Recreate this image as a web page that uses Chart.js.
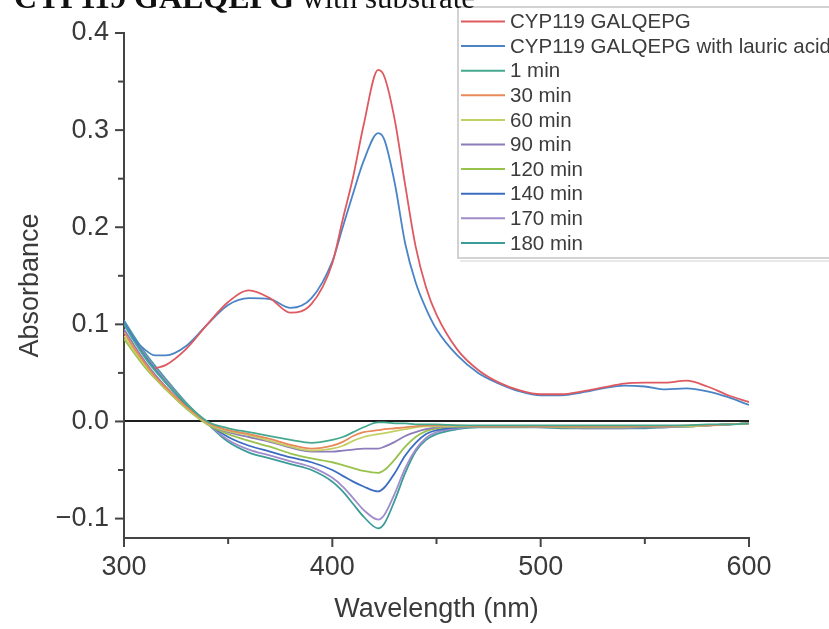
<!DOCTYPE html>
<html>
<head>
<meta charset="utf-8">
<script src="https://cdn.jsdelivr.net/npm/chart.js@4.4.1/dist/chart.umd.min.js"></script>
<style>
  body { margin: 0; background: #fff; }
  #wrap { position: relative; width: 829px; height: 629px; }
</style>
</head>
<body>
<div id="wrap"><canvas id="spectra"></canvas></div>
<script>
// wavelength grid (nm) shared by every spectrum
const wavelength = [300, 305, 310, 315, 320, 330, 340, 350, 360, 370, 380, 390,
  400, 405, 410, 415, 422, 425, 430, 435, 440, 445, 450,
  460, 470, 480, 490, 500, 510, 520, 530, 540, 550, 560, 570, 580, 590, 600];

const enzyme = [null, null, null, 0.055, 0.058, 0.075, 0.1, 0.123, 0.135, 0.127, 0.112, 0.121,
  0.163, 0.208, 0.252, 0.305, 0.362, 0.355, 0.31, 0.243, 0.18, 0.138, 0.11,
  0.074, 0.053, 0.04, 0.032, 0.028, 0.028, 0.031, 0.035, 0.039, 0.04, 0.04, 0.042, 0.036, 0.027, 0.02];
const enzymeLauric = [0.103, 0.085, 0.074, 0.068, 0.068, 0.078, 0.1, 0.12, 0.127, 0.126, 0.117, 0.127,
  0.165, 0.2, 0.235, 0.268, 0.297, 0.29, 0.245, 0.183, 0.143, 0.116, 0.095,
  0.068, 0.05, 0.039, 0.031, 0.027, 0.027, 0.03, 0.034, 0.037, 0.036, 0.033, 0.034, 0.031, 0.025, 0.017];

// difference spectra over time
const min1 = [0.1, 0.082, 0.066, 0.052, 0.04, 0.018, 0.0, -0.007, -0.011, -0.015, -0.019, -0.022,
  -0.019, -0.016, -0.011, -0.006, -0.001, -0.001, -0.002, -0.002, -0.003, -0.003, -0.003,
  -0.004, -0.004, -0.004, -0.004, -0.004, -0.004, -0.004, -0.004, -0.004, -0.004, -0.004, -0.004, -0.003, -0.003, -0.002];
const min30 = [0.092, 0.075, 0.06, 0.046, 0.035, 0.015, -0.001, -0.009, -0.013, -0.018, -0.024, -0.028,
  -0.025, -0.021, -0.015, -0.011, -0.009, -0.008, -0.007, -0.006, -0.005, -0.004, -0.004,
  -0.004, -0.005, -0.005, -0.005, -0.005, -0.005, -0.005, -0.005, -0.005, -0.005, -0.005, -0.004, -0.004, -0.003, -0.002];
const min60 = [0.088, 0.072, 0.058, 0.045, 0.034, 0.014, -0.002, -0.01, -0.014, -0.02, -0.026, -0.03,
  -0.028, -0.025, -0.02, -0.016, -0.013, -0.012, -0.01, -0.008, -0.006, -0.005, -0.005,
  -0.005, -0.005, -0.005, -0.005, -0.005, -0.005, -0.005, -0.005, -0.005, -0.005, -0.005, -0.005, -0.004, -0.003, -0.002];
const min90 = [0.095, 0.078, 0.062, 0.048, 0.036, 0.015, -0.002, -0.011, -0.016, -0.021, -0.027, -0.031,
  -0.031, -0.03, -0.029, -0.028, -0.028, -0.026, -0.021, -0.015, -0.011, -0.008, -0.006,
  -0.005, -0.005, -0.005, -0.005, -0.005, -0.005, -0.005, -0.005, -0.005, -0.005, -0.005, -0.005, -0.004, -0.003, -0.002];
const min120 = [0.085, 0.07, 0.056, 0.044, 0.033, 0.013, -0.003, -0.013, -0.02, -0.026, -0.033, -0.038,
  -0.042, -0.045, -0.048, -0.051, -0.053, -0.05, -0.039, -0.026, -0.016, -0.01, -0.007,
  -0.005, -0.005, -0.005, -0.005, -0.005, -0.006, -0.006, -0.006, -0.006, -0.005, -0.005, -0.005, -0.004, -0.003, -0.002];
const min140 = [0.1, 0.083, 0.067, 0.053, 0.04, 0.017, -0.002, -0.016, -0.025, -0.031, -0.037, -0.042,
  -0.05, -0.056, -0.062, -0.067, -0.072, -0.068, -0.053, -0.035, -0.022, -0.013, -0.009,
  -0.006, -0.005, -0.005, -0.005, -0.005, -0.006, -0.006, -0.006, -0.006, -0.006, -0.005, -0.005, -0.004, -0.003, -0.002];
const min170 = [0.102, 0.085, 0.069, 0.055, 0.042, 0.018, -0.002, -0.019, -0.029, -0.035, -0.041, -0.047,
  -0.058, -0.067, -0.079, -0.091, -0.101, -0.096, -0.074, -0.048, -0.029, -0.017, -0.011,
  -0.007, -0.005, -0.005, -0.005, -0.006, -0.006, -0.007, -0.007, -0.007, -0.006, -0.006, -0.005, -0.004, -0.003, -0.002];
const min180 = [0.104, 0.087, 0.071, 0.057, 0.044, 0.019, -0.002, -0.021, -0.032, -0.038, -0.044, -0.05,
  -0.062, -0.072, -0.085, -0.098, -0.11, -0.105, -0.081, -0.053, -0.031, -0.019, -0.013,
  -0.008, -0.006, -0.006, -0.006, -0.006, -0.007, -0.007, -0.007, -0.007, -0.007, -0.006, -0.005, -0.004, -0.003, -0.002];

const seriesNames = ["CYP119 GALQEPG", "CYP119 GALQEPG with lauric acid", "1 min", "30 min", "60 min",
  "90 min", "120 min", "140 min", "170 min", "180 min"];
const seriesValues = [enzyme, enzymeLauric, min1, min30, min60, min90, min120, min140, min170, min180];
const seriesColors = ["#de5a60", "#4a84c6", "#45a98f", "#e8895a", "#c3d063",
  "#8e7cba", "#98c24c", "#3b6cc0", "#a08ccb", "#3c9c98"];

const xTicks = [300, 400, 500, 600];
const yTicks = [-0.1, 0, 0.1, 0.2, 0.3, 0.4];

const FONT = '"Liberation Sans", Arial, sans-serif';
const SERIF = '"Liberation Serif", "Times New Roman", serif';
const INK = "#3a3a3a";
const AXIS = "#444";

// axis tick marks (major + minor, pointing outward), legend box and heading
const frame = {
  id: "frame",
  afterDatasetsDraw(chart) {
    const { ctx, chartArea, scales } = chart;
    ctx.save();
    ctx.strokeStyle = AXIS;
    ctx.lineWidth = 2;
    for (let v = 300; v <= 600; v += 50) {
      const px = scales.x.getPixelForValue(v);
      const len = v % 100 === 0 ? 9 : 6;
      ctx.beginPath();
      ctx.moveTo(px, chartArea.bottom);
      ctx.lineTo(px, chartArea.bottom + len);
      ctx.stroke();
    }
    for (let i = -2; i <= 8; i++) {
      const py = scales.y.getPixelForValue(i * 0.05);
      const len = i % 2 === 0 ? 9 : 6;
      ctx.beginPath();
      ctx.moveTo(chartArea.left, py);
      ctx.lineTo(chartArea.left - len, py);
      ctx.stroke();
    }
    ctx.restore();
  },
  afterDraw(chart) {
    const ctx = chart.ctx;
    ctx.save();

    // legend
    const bx = 458, by = 7, bw = 400, bh = 251;
    ctx.fillStyle = "#fff";
    ctx.fillRect(bx, by, bw, bh);
    ctx.strokeStyle = "#c4c4c4";
    ctx.lineWidth = 1.5;
    ctx.strokeRect(bx, by, bw, bh);
    ctx.strokeStyle = "#e2e2e2";
    ctx.beginPath();
    ctx.moveTo(bx + 2, by + bh + 3);
    ctx.lineTo(bx + bw, by + bh + 3);
    ctx.stroke();
    ctx.font = "20.5px " + FONT;
    ctx.textBaseline = "middle";
    ctx.fillStyle = "#3c3c3c";
    chart.data.datasets.forEach((ds, i) => {
      const cy = 21.5 + i * 24.6;
      ctx.strokeStyle = ds.borderColor;
      ctx.lineWidth = 2;
      ctx.beginPath();
      ctx.moveTo(461, cy);
      ctx.lineTo(505, cy);
      ctx.stroke();
      ctx.fillText(ds.label, 510, cy + 1);
    });

    // heading, clipped by the top edge
    ctx.fillStyle = "#111";
    ctx.textBaseline = "alphabetic";
    ctx.font = "bold 32px " + SERIF;
    ctx.fillText("CYP119 GALQEPG", 14, 8);
    const w = ctx.measureText("CYP119 GALQEPG ").width;
    ctx.font = "31px " + SERIF;
    ctx.fillText("with substrate", 14 + w, 8);
    ctx.restore();
  }
};

new Chart(document.getElementById("spectra"), {
  type: "line",
  data: {
    datasets: seriesNames.map((name, i) => ({
      label: name,
      data: wavelength.map((x, j) => ({ x: x, y: seriesValues[i][j] })),
      borderColor: seriesColors[i],
      backgroundColor: seriesColors[i],
      borderWidth: 1.8,
      pointRadius: 0,
      cubicInterpolationMode: "monotone",
      spanGaps: false,
      fill: false,
    })),
  },
  options: {
    responsive: true,
    maintainAspectRatio: false,
    animation: false,
    events: [],
    layout: { padding: { top: 33, right: 80, left: 0, bottom: 0 } },
    plugins: {
      legend: { display: false },
      tooltip: { enabled: false },
    },
    scales: {
      x: {
        type: "linear",
        min: 300,
        max: 600,
        afterBuildTicks: (s) => { s.ticks = xTicks.map((v) => ({ value: v })); },
        afterFit: (s) => { s.height = 91; },
        grid: { drawOnChartArea: false, drawTicks: false },
        border: { display: true, color: AXIS, width: 2 },
        ticks: { padding: 13, color: INK, font: { family: FONT, size: 27 }, maxRotation: 0 },
        title: {
          display: true,
          text: "Wavelength (nm)",
          color: INK,
          font: { family: FONT, size: 27, lineHeight: 1 },
          padding: { top: 0, bottom: 6 },
        },
      },
      y: {
        type: "linear",
        min: -0.12,
        max: 0.4,
        afterBuildTicks: (s) => { s.ticks = yTicks.map((v) => ({ value: v })); },
        afterFit: (s) => { s.width = 124; },
        grid: {
          drawTicks: false,
          lineWidth: 2,
          color: (c) => (c.tick && c.tick.value === 0 ? "#1e1e1e" : "rgba(0,0,0,0)"),
        },
        border: { display: true, color: AXIS, width: 2 },
        ticks: {
          padding: 15,
          color: INK,
          font: { family: FONT, size: 27 },
          callback: (v) => v.toFixed(1).replace("-", "\u2212"),
        },
        title: {
          display: true,
          text: "Absorbance",
          color: INK,
          font: { family: FONT, size: 27, lineHeight: 1 },
          padding: { top: 17, bottom: 0 },
        },
      },
    },
  },
  plugins: [frame],
});
</script>
</body>
</html>
